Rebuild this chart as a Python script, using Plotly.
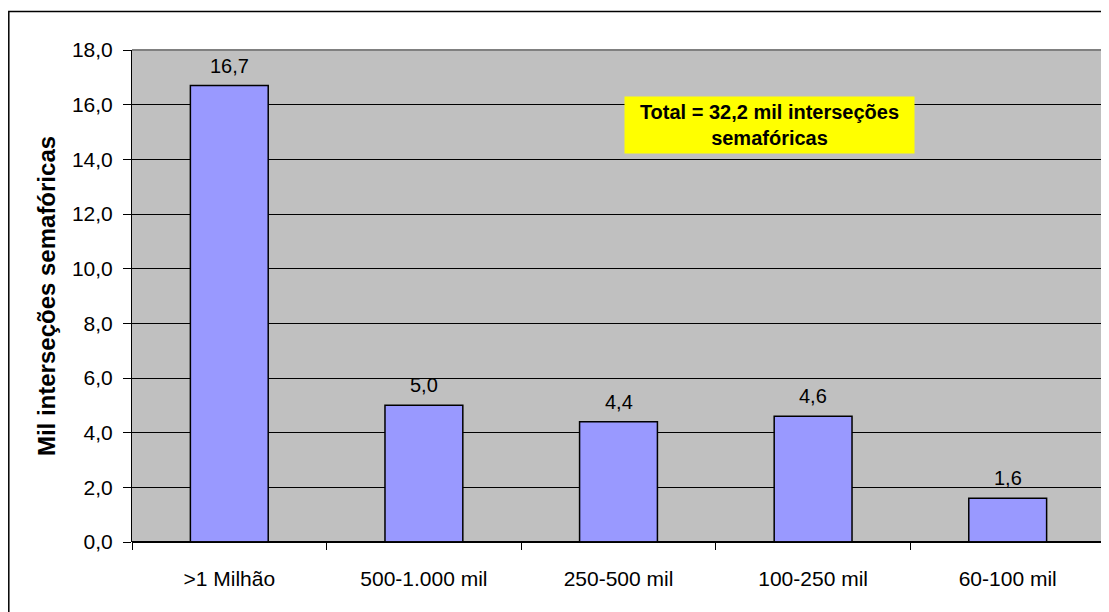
import plotly.graph_objects as go

categories = [">1 Milhão", "500-1.000 mil", "250-500 mil", "100-250 mil", "60-100 mil"]
values = [16.7, 5.0, 4.4, 4.6, 1.6]
y_ticks = [0, 2, 4, 6, 8, 10, 12, 14, 16, 18]
y_title = "Mil interseções semafóricas"
note_text = "Total = 32,2 mil interseções<br>semafóricas"

# page body has an 8px margin; compensate so the plot area lands at 132..1105 x 50..542
OFF = 8
W, H = 1109, 612
ml, mt = 132 - OFF, 50 - OFF
pw, ph = 973, 492
mr = W - ml - pw
mb = H - mt - ph

fig = go.Figure()
fig.add_trace(go.Bar(
    x=categories, y=values,
    marker=dict(color="#9999FF", line=dict(color="black", width=1.5)),
    width=0.4,
    cliponaxis=False,
))
for c, v in zip(categories, values):
    fig.add_annotation(
        x=c, y=v, xref="x", yref="y",
        text=f"{v:.1f}".replace(".", ","), showarrow=False,
        yanchor="bottom", xanchor="center", yshift=7,
        font=dict(size=20, color="black"),
    )

fig.update_layout(
    width=W, height=H,
    margin=dict(l=ml, r=mr, t=mt, b=mb),
    paper_bgcolor="white", plot_bgcolor="#C0C0C0",
    separators=",.",
    showlegend=False,
    font=dict(family="Liberation Sans, Arial", size=21, color="black"),
)
fig.update_xaxes(
    type="category",
    tickson="boundaries", ticks="outside", ticklen=7, tickcolor="black",
    showgrid=False, showline=False, zeroline=False,
    tickfont=dict(size=21), ticklabelstandoff=22,
)
fig.update_yaxes(
    range=[0, 18], tickvals=y_ticks, tickformat=".1f",
    ticks="outside", ticklen=8, tickcolor="black",
    showgrid=True, gridcolor="black", gridwidth=1,
    showline=True, linecolor="black", linewidth=1,
    zeroline=True, zerolinecolor="black", zerolinewidth=1.5,
    tickfont=dict(size=21), ticklabelstandoff=6,
    title=dict(text=y_title, font=dict(size=24, weight="bold"), standoff=9),
)
# plot area top/right border (gray)
fig.add_shape(type="line", xref="paper", yref="paper", x0=0, x1=1, y0=1, y1=1,
              line=dict(color="#808080", width=2))
fig.add_shape(type="line", xref="paper", yref="paper", x0=1, x1=1, y0=0, y1=1,
              line=dict(color="#808080", width=2))
# x axis line
fig.add_shape(type="line", xref="paper", yref="paper", x0=0, x1=1, y0=0, y1=0,
              line=dict(color="black", width=1.5))
# outer chart border (left at page x=8, top at page y=11)
fig.add_shape(type="rect", xref="paper", yref="paper",
              x0=(0.8 - ml) / pw, x1=(W + 20 - ml) / pw,
              y0=(mt + ph - (H + 20)) / ph, y1=(mt + ph - 3.5) / ph,
              line=dict(color="black", width=1.5), fillcolor="rgba(0,0,0,0)", layer="below")

fig.add_annotation(
    xref="paper", yref="paper",
    x=(769.5 - 132) / pw, y=(542 - 125) / ph,
    xanchor="center", yanchor="middle",
    text="<b>" + note_text + "</b>", showarrow=False,
    font=dict(size=20, color="black"),
    bgcolor="#FFFF00", width=283, height=50, borderpad=3, align="center",
)

fig.write_html("out.html")
